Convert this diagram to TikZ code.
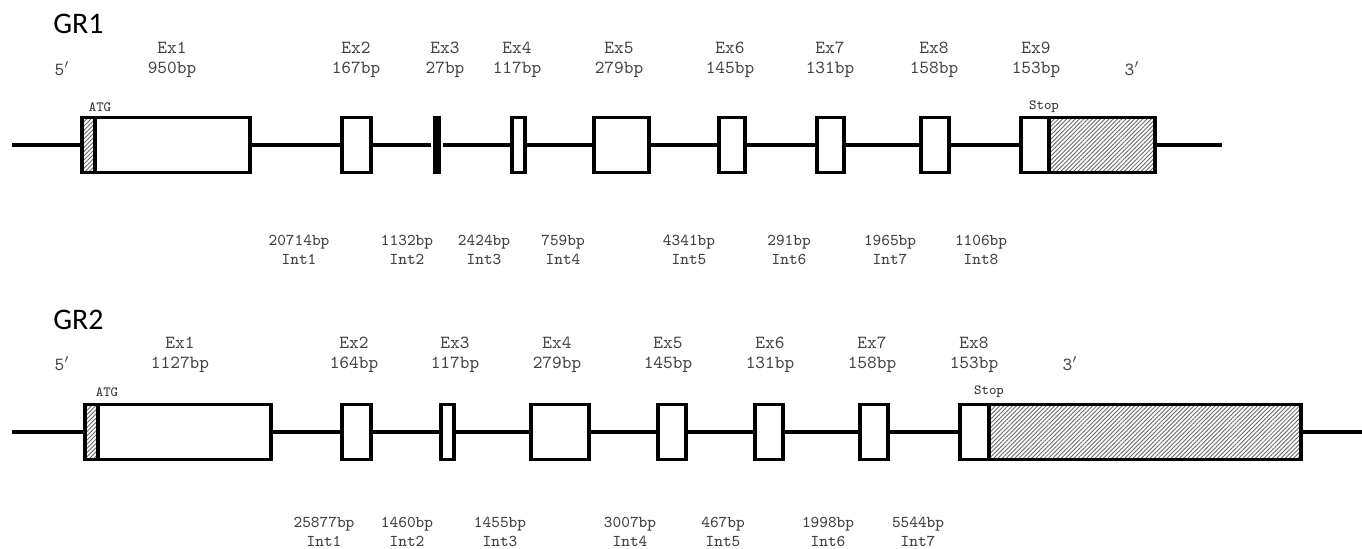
\documentclass[tikz,border=0pt]{standalone}
\usepackage{fontspec}
\newfontfamily\genefont{Carlito}
\usetikzlibrary{patterns.meta}

\begin{document}
\begin{tikzpicture}[
  x=0.02cm, y=-0.02cm,
  exon/.style={rectangle, draw, line width=2.2pt, fill=white, inner sep=0pt,
               minimum height=1.1cm},
  utr/.style={exon, pattern={Lines[angle=45,distance=1.7pt,line width=0.5pt]},
              pattern color=black!60},
  intron/.style={draw, line width=2pt},
  exlab/.style={font=\ttfamily\fontsize{10.5}{11.3}\selectfont, text=black!75,
                align=center, inner sep=0pt},
  intlab/.style={font=\ttfamily\fontsize{9.4}{10.8}\selectfont, text=black!75,
                 align=center, inner sep=0pt},
  site/.style={font=\ttfamily\fontsize{8}{8}\selectfont, text=black!80,
               inner sep=0pt},
  gene/.style={font=\genefont\fontsize{17}{20}\selectfont, anchor=west,
               inner sep=0pt}
]
\useasboundingbox (0,0) rectangle (1362,548);

% GR1 exons
\node[gene] (gr1) at (53,24) {GR1};
\node[utr, minimum width=0.26cm] (g1u5) at (88.5,145) {};
\node[exon, minimum width=3.10cm] (g1x1) at (172.5,145) {};
\node[exon, minimum width=0.58cm] (g1x2) at (356.5,145) {};
\node[exon, draw=none, fill=black, minimum width=0.16cm,
      minimum height=1.16cm] (g1x3) at (437,145) {};
\node[exon, minimum width=0.26cm] (g1x4) at (518.5,145) {};
\node[exon, minimum width=1.10cm] (g1x5) at (621.5,145) {};
\node[exon, minimum width=0.52cm] (g1x6) at (732,145) {};
\node[exon, minimum width=0.54cm] (g1x7) at (830.5,145) {};
\node[exon, minimum width=0.56cm] (g1x8) at (935,145) {};
\node[exon, minimum width=0.56cm] (g1x9) at (1035,145) {};
\node[utr, minimum width=2.12cm] (g1u3) at (1102,145) {};
\coordinate (g1l) at (12,145);
\coordinate (g1r) at (1222,145);
% GR1 introns
\draw[intron] (g1l) -- (g1u5);
\draw[intron] (g1x1) -- (g1x2);
\draw[intron] (g1x2) -- (g1x3);
\draw[intron] (g1x3) -- (g1x4);
\draw[intron] (g1x4) -- (g1x5);
\draw[intron] (g1x5) -- (g1x6);
\draw[intron] (g1x6) -- (g1x7);
\draw[intron] (g1x7) -- (g1x8);
\draw[intron] (g1x8) -- (g1x9);
\draw[intron] (g1u3) -- (g1r);
% GR1 labels
\node[exlab] (g1p5) at (62,69) {5$'$};
\node[exlab] (g1t1) at (172,60) {Ex1\\950bp};
\node[exlab] (g1t2) at (356,60) {Ex2\\167bp};
\node[exlab] (g1t3) at (445,60) {Ex3\\27bp};
\node[exlab] (g1t4) at (517,60) {Ex4\\117bp};
\node[exlab] (g1t5) at (619,60) {Ex5\\279bp};
\node[exlab] (g1t6) at (730,60) {Ex6\\145bp};
\node[exlab] (g1t7) at (830,60) {Ex7\\131bp};
\node[exlab] (g1t8) at (934,60) {Ex8\\158bp};
\node[exlab] (g1t9) at (1036,60) {Ex9\\153bp};
\node[exlab] (g1p3) at (1132,69) {3$'$};
\node[site] (g1atg) at (100,107) {ATG};
\node[site] (g1stop) at (1044,107) {Stop};
\node[intlab] (g1i1) at (299,250) {20714bp\\Int1};
\node[intlab] (g1i2) at (407,250) {1132bp\\Int2};
\node[intlab] (g1i3) at (484,250) {2424bp\\Int3};
\node[intlab] (g1i4) at (563,250) {759bp\\Int4};
\node[intlab] (g1i5) at (689,250) {4341bp\\Int5};
\node[intlab] (g1i6) at (789,250) {291bp\\Int6};
\node[intlab] (g1i7) at (890,250) {1965bp\\Int7};
\node[intlab] (g1i8) at (981,250) {1106bp\\Int8};

% GR2 exons
\node[gene] (gr2) at (53,320) {GR2};
\node[utr, minimum width=0.26cm] (g2u5) at (91.5,432) {};
\node[exon, minimum width=3.46cm] (g2x1) at (184.5,432) {};
\node[exon, minimum width=0.58cm] (g2x2) at (356.5,432) {};
\node[exon, minimum width=0.26cm] (g2x3) at (447.5,432) {};
\node[exon, minimum width=1.16cm] (g2x4) at (560,432) {};
\node[exon, minimum width=0.56cm] (g2x5) at (672,432) {};
\node[exon, minimum width=0.56cm] (g2x6) at (769,432) {};
\node[exon, minimum width=0.56cm] (g2x7) at (874,432) {};
\node[exon, minimum width=0.58cm] (g2x8) at (974.5,432) {};
\node[utr, minimum width=6.24cm] (g2u3) at (1145,432) {};
\coordinate (g2l) at (12,432);
\coordinate (g2r) at (1362,432);
% GR2 introns
\draw[intron] (g2l) -- (g2u5);
\draw[intron] (g2x1) -- (g2x2);
\draw[intron] (g2x2) -- (g2x3);
\draw[intron] (g2x3) -- (g2x4);
\draw[intron] (g2x4) -- (g2x5);
\draw[intron] (g2x5) -- (g2x6);
\draw[intron] (g2x6) -- (g2x7);
\draw[intron] (g2x7) -- (g2x8);
\draw[intron] (g2u3) -- (g2r);
% GR2 labels
\node[exlab] (g2p5) at (62,364) {5$'$};
\node[exlab] (g2t1) at (180,355) {Ex1\\1127bp};
\node[exlab] (g2t2) at (354,355) {Ex2\\164bp};
\node[exlab] (g2t3) at (455,355) {Ex3\\117bp};
\node[exlab] (g2t4) at (557,355) {Ex4\\279bp};
\node[exlab] (g2t5) at (668,355) {Ex5\\145bp};
\node[exlab] (g2t6) at (770,355) {Ex6\\131bp};
\node[exlab] (g2t7) at (872,355) {Ex7\\158bp};
\node[exlab] (g2t8) at (974,355) {Ex8\\153bp};
\node[exlab] (g2p3) at (1070,364) {3$'$};
\node[site] (g2atg) at (107,392) {ATG};
\node[site] (g2stop) at (989,392) {Stop};
\node[intlab] (g2i1) at (324,532) {25877bp\\Int1};
\node[intlab] (g2i2) at (407,532) {1460bp\\Int2};
\node[intlab] (g2i3) at (500,532) {1455bp\\Int3};
\node[intlab] (g2i4) at (630,532) {3007bp\\Int4};
\node[intlab] (g2i5) at (723,532) {467bp\\Int5};
\node[intlab] (g2i6) at (828,532) {1998bp\\Int6};
\node[intlab] (g2i7) at (918,532) {5544bp\\Int7};
\end{tikzpicture}
\end{document}
